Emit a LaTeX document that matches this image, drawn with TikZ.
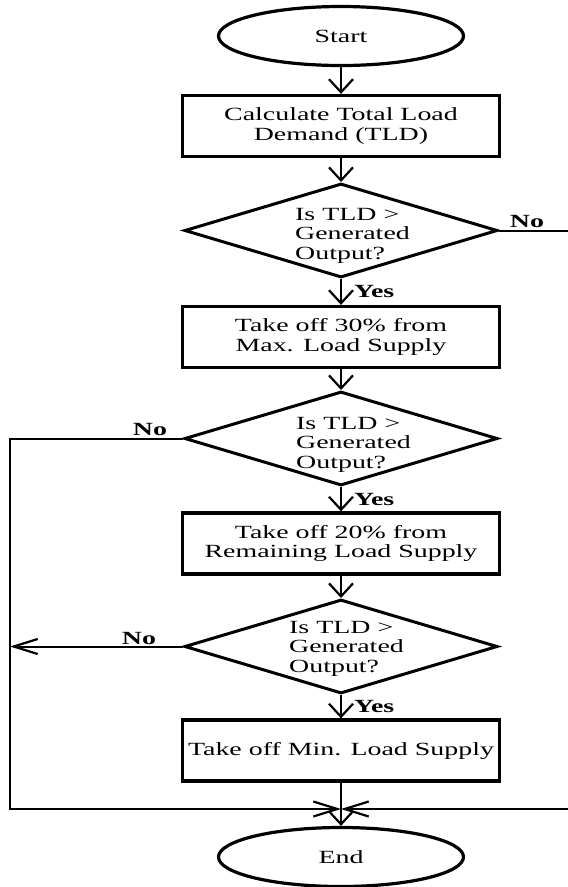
\documentclass[tikz,border=0pt]{standalone}
\usepackage{fontspec}
\setmainfont{Liberation Serif}[FakeStretch=1.5]
\usetikzlibrary{shapes.geometric,arrows.meta}
\begin{document}
\begin{tikzpicture}[x=1pt,y=-1pt,
  every node/.style={font=\fontsize{18.6}{19.5}\selectfont, inner sep=0pt},
  procbox/.style={draw, line width=3.3pt, rectangle, minimum width=317pt, minimum height=61pt, align=center},
  decision/.style={draw, line width=3pt, diamond, minimum width=313pt, minimum height=94pt},
  terminal/.style={draw, line width=3.2pt, ellipse, minimum width=245pt, minimum height=59pt},
  flow/.style={line width=2pt},
  varr/.style={flow, -{Straight Barb[length=13pt,width=24pt,line width=2.2pt]}},
  harr/.style={flow, -{Straight Barb[length=24pt,width=15pt,line width=2.2pt]}},
  qtext/.style={align=left, anchor=west},
  lbl/.style={font=\fontsize{18.6}{19.5}\selectfont\bfseries}
]
\useasboundingbox (0,0) rectangle (568,887);
\clip (0,0) rectangle (568,887);

\node[terminal] (start) at (341,36) {Start};
\node[procbox] (b1) at (341,126) {Calculate Total Load\\Demand (TLD)};
\node[decision] (d1) at (341,230.5) {};
\node[qtext] (d1t) at (295,235.5) {Is TLD >\\Generated\\Output?};
\node[procbox] (b2) at (341,337) {Take off 30\% from\\Max. Load Supply};
\node[decision] (d2) at (341,438.5) {};
\node[qtext] (d2t) at (296,444.5) {Is TLD >\\Generated\\Output?};
\node[procbox] (b3) at (341,543.5) {Take off 20\% from\\Remaining Load Supply};
\node[decision] (d3) at (341,646.5) {};
\node[qtext] (d3t) at (289,648.5) {Is TLD >\\Generated\\Output?};
\node[procbox] (b4) at (341,750.5) {Take off Min. Load Supply};
\node[terminal] (end) at (341,857) {End};

\coordinate (m) at (341,809);
\coordinate (lt) at (10,438.5);
\coordinate (lb) at (10,809);
\coordinate (lm) at (10,646.5);
\coordinate (rt) at (573,230.5);
\coordinate (rb) at (573,809);

\draw[varr] (start) -- (b1);
\draw[varr] (b1) -- (d1);
\draw[varr] (d1) -- node[lbl, anchor=west, xshift=12pt] (y1) {Yes} (b2);
\draw[varr] (b2) -- (d2);
\draw[varr] (d2) -- node[lbl, anchor=west, xshift=12pt] (y2) {Yes} (b3);
\draw[varr] (b3) -- (d3);
\draw[varr] (d3) -- node[lbl, anchor=west, xshift=12pt] (y3) {Yes} (b4);
\draw[varr] (b4) -- (end);

\draw[harr] (d1.east) -- (rt) -- (rb) -- (m);
\draw[harr] (d2.west) -- (lt) -- (lb) -- (m);
\draw[harr] (d3.west) -- (lm);

\node[lbl] (n1) at (527,221) {No};
\node[lbl] (n2) at (150,429) {No};
\node[lbl] (n3) at (139,638) {No};
\end{tikzpicture}
\end{document}
